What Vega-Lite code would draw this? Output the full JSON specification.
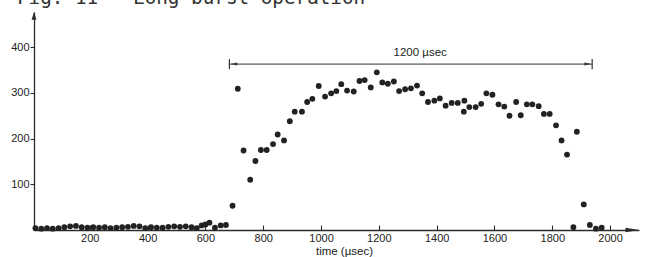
{
  "$schema": "https://vega.github.io/schema/vega-lite/v6.json",
  "autosize": {"type": "none"},
  "width": 605,
  "height": 218,
  "padding": {"left": 34, "top": 12, "right": 10, "bottom": 27},
  "background": "white",
  "config": {
    "view": {"stroke": null},
    "axis": {"domainColor": "#2b2b2b", "domainWidth": 1.3, "tickColor": "#2b2b2b", "tickWidth": 1.1, "grid": false, "labelFont": "Liberation Sans", "labelFontSize": 11, "labelColor": "#222", "titleFont": "Liberation Sans", "titleFontSize": 11.5, "titleFontWeight": "normal", "titleColor": "#222"}
  },
  "datasets": {
    "counts": [
      {"t": 12, "v": 4}, {"t": 32, "v": 3}, {"t": 52, "v": 4}, {"t": 72, "v": 3}, {"t": 92, "v": 4},
      {"t": 112, "v": 6}, {"t": 132, "v": 8}, {"t": 152, "v": 9}, {"t": 172, "v": 6}, {"t": 192, "v": 5},
      {"t": 212, "v": 6}, {"t": 232, "v": 5}, {"t": 252, "v": 6}, {"t": 272, "v": 4}, {"t": 292, "v": 5},
      {"t": 312, "v": 6}, {"t": 332, "v": 7}, {"t": 352, "v": 9}, {"t": 372, "v": 8}, {"t": 392, "v": 4},
      {"t": 412, "v": 6}, {"t": 432, "v": 5}, {"t": 452, "v": 5}, {"t": 472, "v": 7}, {"t": 492, "v": 8},
      {"t": 512, "v": 7}, {"t": 532, "v": 8}, {"t": 552, "v": 6}, {"t": 570, "v": 4},
      {"t": 587, "v": 10}, {"t": 600, "v": 12}, {"t": 614, "v": 16}, {"t": 633, "v": 5}, {"t": 653, "v": 10}, {"t": 671, "v": 11},
      {"t": 694, "v": 53}, {"t": 712, "v": 309}, {"t": 732, "v": 174}, {"t": 755, "v": 110}, {"t": 773, "v": 151},
      {"t": 792, "v": 175}, {"t": 812, "v": 175}, {"t": 834, "v": 188}, {"t": 850, "v": 209}, {"t": 872, "v": 196},
      {"t": 892, "v": 238}, {"t": 909, "v": 259}, {"t": 934, "v": 259}, {"t": 952, "v": 280}, {"t": 970, "v": 287},
      {"t": 992, "v": 315}, {"t": 1014, "v": 292}, {"t": 1035, "v": 299}, {"t": 1053, "v": 304}, {"t": 1070, "v": 319},
      {"t": 1090, "v": 305}, {"t": 1113, "v": 303}, {"t": 1133, "v": 326}, {"t": 1151, "v": 328}, {"t": 1172, "v": 312},
      {"t": 1193, "v": 345}, {"t": 1212, "v": 323}, {"t": 1231, "v": 320}, {"t": 1252, "v": 325}, {"t": 1270, "v": 304},
      {"t": 1291, "v": 308}, {"t": 1311, "v": 310}, {"t": 1332, "v": 316}, {"t": 1350, "v": 299}, {"t": 1370, "v": 280},
      {"t": 1392, "v": 283}, {"t": 1411, "v": 288}, {"t": 1431, "v": 272}, {"t": 1452, "v": 278}, {"t": 1473, "v": 278},
      {"t": 1496, "v": 283}, {"t": 1494, "v": 259}, {"t": 1513, "v": 269}, {"t": 1535, "v": 269}, {"t": 1554, "v": 276},
      {"t": 1572, "v": 299}, {"t": 1593, "v": 296}, {"t": 1614, "v": 275}, {"t": 1634, "v": 270}, {"t": 1652, "v": 250},
      {"t": 1675, "v": 280}, {"t": 1691, "v": 251}, {"t": 1712, "v": 275}, {"t": 1731, "v": 275}, {"t": 1753, "v": 271},
      {"t": 1771, "v": 254}, {"t": 1791, "v": 254}, {"t": 1813, "v": 229}, {"t": 1832, "v": 196}, {"t": 1851, "v": 165},
      {"t": 1873, "v": 6}, {"t": 1885, "v": 215}, {"t": 1909, "v": 56}, {"t": 1930, "v": 11}, {"t": 1951, "v": 3}, {"t": 1971, "v": 5}
    ],
    "span": [{"start": 683, "end": 1938, "level": 363, "label": "1200 µsec", "mid": 1343, "labelLevel": 387}],
    "ends": [{"t": 683, "dir": "left"}, {"t": 1938, "dir": "right"}],
    "caption": [{"text": "Fig. 11 - Long burst operation", "t": -52, "v": 494}]
  },
  "layer": [
    {
      "data": {"name": "counts"},
      "mark": {"type": "circle", "size": 34, "opacity": 1, "color": "#222"},
      "encoding": {
        "x": {"field": "t", "type": "quantitative", "scale": {"domain": [7, 2100], "nice": false, "zero": false},
          "axis": {"values": [200, 400, 600, 800, 1000, 1200, 1400, 1600, 1800, 2000], "format": "d", "tickSize": -5, "labelPadding": 7, "title": "time (µsec)", "titlePadding": 2, "titleX": 310, "labelFlush": false}},
        "y": {"field": "v", "type": "quantitative", "scale": {"domain": [0, 477], "nice": false},
          "axis": {"values": [100, 200, 300, 400], "tickSize": 4, "labelPadding": 1, "title": null}}
      }
    },
    {
      "data": {"name": "span"},
      "mark": {"type": "rule", "color": "#333", "strokeWidth": 1},
      "encoding": {
        "x": {"field": "start", "type": "quantitative"},
        "x2": {"field": "end"},
        "y": {"field": "level", "type": "quantitative"}
      }
    },
    {
      "data": {"name": "ends"},
      "mark": {"type": "rule", "color": "#333", "strokeWidth": 1.2},
      "encoding": {
        "x": {"field": "t", "type": "quantitative"},
        "y": {"datum": 352},
        "y2": {"datum": 374}
      }
    },
    {
      "data": {"name": "ends"},
      "mark": {"type": "point", "filled": true, "size": 36, "color": "#333", "opacity": 1},
      "encoding": {
        "x": {"field": "t", "type": "quantitative"},
        "y": {"datum": 363},
        "shape": {"field": "dir", "type": "nominal", "legend": null,
          "scale": {"domain": ["left", "right"], "range": ["M0.4,0L2.6,-0.5L2.6,0.5Z", "M-0.4,0L-2.6,-0.5L-2.6,0.5Z"]}}
      }
    },
    {
      "data": {"name": "span"},
      "mark": {"type": "text", "font": "Liberation Sans", "fontSize": 11.5, "color": "#222", "baseline": "middle", "align": "center"},
      "encoding": {
        "x": {"field": "mid", "type": "quantitative"},
        "y": {"field": "labelLevel", "type": "quantitative"},
        "text": {"field": "label"}
      }
    },
    {
      "data": {"values": [{"t": 7, "v": 477}]},
      "mark": {"type": "point", "filled": true, "size": 36, "color": "#2b2b2b", "opacity": 1, "shape": "M0,0L0.8,2.6L-0.8,2.6Z"},
      "encoding": {"x": {"field": "t", "type": "quantitative"}, "y": {"field": "v", "type": "quantitative"}}
    },
    {
      "data": {"values": [{"t": 2100, "v": 0}]},
      "mark": {"type": "point", "filled": true, "size": 36, "color": "#2b2b2b", "opacity": 1, "shape": "M0,0L-4.5,-0.75L-4.5,0.75Z"},
      "encoding": {"x": {"field": "t", "type": "quantitative"}, "y": {"field": "v", "type": "quantitative"}}
    },
    {
      "data": {"name": "caption"},
      "mark": {"type": "text", "font": "DejaVu Sans Mono", "fontSize": 19.3, "color": "#333", "baseline": "alphabetic", "align": "left"},
      "encoding": {
        "x": {"field": "t", "type": "quantitative"},
        "y": {"field": "v", "type": "quantitative"},
        "text": {"field": "text"}
      }
    }
  ]
}
